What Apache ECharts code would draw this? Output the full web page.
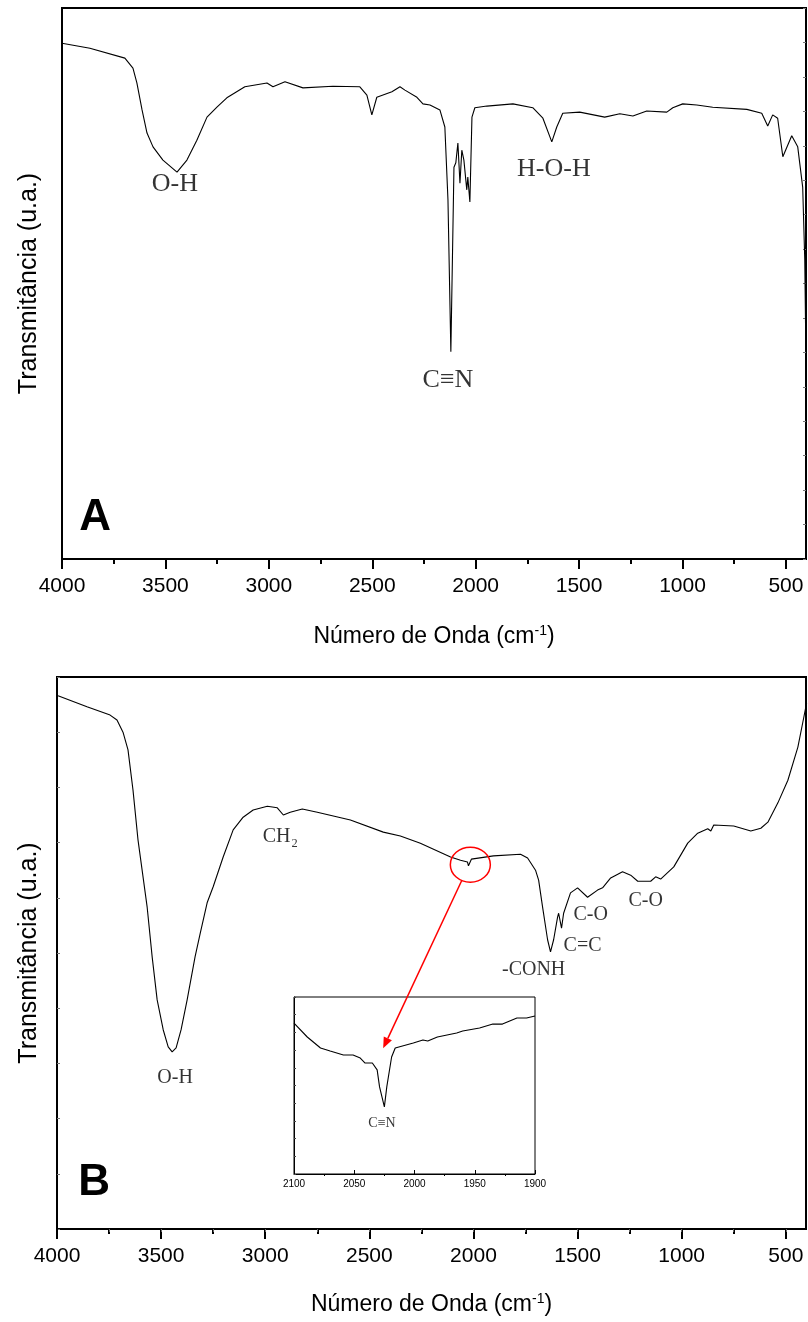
<!DOCTYPE html>
<html>
<head>
<meta charset="utf-8">
<script src="https://cdn.jsdelivr.net/npm/echarts@6/dist/echarts.min.js"></script>
<style>html,body{margin:0;padding:0;background:#fff}#c{width:808px;height:1322px}</style>
</head>
<body>
<div id="c"></div>
<script>
// ---------- DATA ----------
const xTicks = [4000, 3500, 3000, 2500, 2000, 1500, 1000, 500];
const xMinorTicks = [3750, 3250, 2750, 2250, 1750, 1250, 750];
const xTopTicks = [3750, 3500, 3250, 3000, 2750, 2500, 2250, 2000, 1750, 1500, 1250, 1000, 750, 500];
const insetTicks = [2100, 2050, 2000, 1950, 1900];
const insetMinorTicks = [2075, 2025, 1975, 1925];

// Panel A spectrum (wavenumber, transmittance a.u.)
const wavenumberA = [4000,3865,3696,3657,3638,3613,3589,3560,3512,3444,3396,3348,3299,3251,3203,3116,3009,2980,2922,2835,2690,2560,2526,2502,2478,2405,2366,2342,2284,2255,2221,2173,2149,2134,2120,2105,2096,2086,2076,2067,2057,2043,2038,2028,2018,2004,1946,1820,1724,1675,1632,1608,1579,1497,1376,1303,1240,1173,1076,1047,999,931,854,689,617,588,564,540,515,472,443,419,409,404];
const transA = [93.6,92.7,90.9,89.1,86.4,81.5,77.3,74.8,72.4,70.2,72.4,76.0,80.2,82.0,83.7,85.7,86.4,85.7,86.6,85.5,85.8,85.7,84.2,80.6,83.8,84.8,85.7,85.1,83.8,82.6,82.4,81.5,78.4,65.2,37.6,71.1,71.9,75.5,68.2,74.2,72.4,67.0,69.3,64.8,80.2,81.9,82.2,82.6,81.9,80.0,75.7,78.4,80.9,81.1,80.2,80.8,80.4,81.3,81.1,81.9,82.6,82.4,82.0,81.6,80.9,78.6,80.6,80.0,73.0,76.8,74.8,67.5,54.3,38.8];

// Panel B spectrum
const wavenumberB = [3995,3856,3745,3712,3683,3659,3635,3611,3567,3543,3519,3490,3466,3447,3428,3404,3375,3337,3312,3279,3250,3202,3154,3106,3058,2990,2942,2913,2880,2822,2750,2591,2433,2351,2255,2110,2062,2029,2024,2010,1904,1774,1740,1702,1687,1668,1644,1630,1615,1596,1591,1577,1567,1534,1500,1452,1404,1380,1341,1284,1245,1211,1149,1125,1101,1038,971,923,875,860,846,750,668,620,586,538,490,442,413,400];
const transB = [96.6,94.6,93.1,92.2,90.0,86.8,79.5,70.5,58.3,49.3,41.5,36.1,33.0,32.1,32.8,36.1,41.5,49.3,53.6,59.1,62.0,67.4,72.3,74.6,75.9,76.6,76.3,75.0,75.5,76.1,75.5,74.1,71.9,71.2,69.9,67.4,66.8,66.5,65.8,67.0,67.6,67.9,67.2,65.0,63.2,58.3,52.4,50.2,52.4,56.5,57.2,54.5,57.2,60.9,61.8,60.1,61.4,61.8,63.6,64.7,64.1,63.0,63.0,63.8,63.4,65.6,69.9,71.7,72.5,72.1,73.2,73.0,72.1,72.6,73.7,77.2,81.3,87.3,92.8,95.3];

// Inset (zoom 2100-1900)
const wavenumberInset = [2100,2089,2078,2070,2059,2051,2045,2041,2035,2031,2029,2025,2023,2019,2016,2001,1993,1989,1981,1965,1960,1946,1935,1927,1915,1907,1900];
const transInset = [85.3,77.4,71.2,69.5,67.2,67.2,65.5,62.7,62.7,58.8,49.2,37.9,49.2,66.1,71.2,74.0,75.7,75.1,77.4,79.7,80.8,82.5,84.7,84.7,88.1,88.1,89.3];

// Band labels [wavenumber, transmittance, text]
const labelsA = [[3454, 68, 'O-H'], [2134, 32.5, 'C≡N'], [1622, 70.8, 'H-O-H']];
const labelsB = [[2928, 71.0, 'CH{sub|2}'], [3433, 27.4, 'O-H'], [1711, 46.9, '-CONH'], [1437, 56.9, 'C-O'], [1476, 51.4, 'C=C'], [1173, 59.4, 'C-O']];
const labelsInset = [[2027, 28.8, 'C≡N']];
const panelLetters = ['A', 'B'];
const highlightCenter = [2015, 66];   // circled feature in B (data coords)
const arrowTarget = [2026, 71];       // feature in the inset (data coords)

const yTitle = 'Transmitância (u.a.)';
const xTitle = 'Número de Onda (cm{sup|-1})';

// ---------- CHART ----------
const chart = echarts.init(document.getElementById('c'), null, {renderer: 'canvas'});
const SANS = 'Liberation Sans, Arial, sans-serif';
const SERIF = 'Liberation Serif, Times New Roman, serif';
const plain = v => String(v);

function zip(a, b) { return a.map((v, i) => [v, b[i]]); }

function mainX(gridIndex, gap) {
  return {
    type: 'value', gridIndex, inverse: true, min: 403, max: 4000,
    splitLine: {show: false},
    axisLine: {show: true, onZero: false, lineStyle: {color: '#000', width: 2}},
    axisTick: {show: true, inside: false, length: 10, customValues: xTicks, lineStyle: {color: '#000', width: 2}},
    axisLabel: {show: true, customValues: xTicks, formatter: plain, margin: 17, fontSize: 21, color: '#000', fontFamily: SANS},
    name: xTitle, nameLocation: 'middle', nameGap: gap,
    nameTextStyle: {fontSize: 23, color: '#000', fontFamily: SANS,
      rich: {sup: {fontSize: 14, verticalAlign: 'top', padding: [0, 0, 12, 0], fontFamily: SANS, color: '#000'}}}
  };
}
function minorX(gridIndex, values, len, inside, pos, opts) {
  return Object.assign({
    type: 'value', gridIndex, inverse: true, min: 403, max: 4000, position: pos || 'bottom',
    splitLine: {show: false}, axisLine: {show: false},
    axisTick: {show: true, inside: !!inside, length: len, customValues: values, lineStyle: {color: '#000', width: 2}},
    axisLabel: {show: false}
  }, opts || {});
}
function mainY(gridIndex, gap) {
  return {
    type: 'value', gridIndex, min: 0, max: 100,
    splitLine: {show: false},
    axisLine: {show: true, lineStyle: {color: '#000', width: 2}},
    axisTick: {show: false}, axisLabel: {show: false},
    name: yTitle, nameLocation: 'middle', nameGap: gap, nameRotate: 90,
    nameTextStyle: {fontSize: 25, color: '#000', fontFamily: SANS}
  };
}
function tickY(gridIndex, pos, interval) {
  return {
    type: 'value', gridIndex, min: 0, max: 100, position: pos, interval,
    splitLine: {show: false}, axisLine: {show: false}, axisLabel: {show: false},
    axisTick: {show: true, inside: true, length: 3, lineStyle: {color: '#777', width: 1}}
  };
}

function labelSeries(xi, yi, arr, size) {
  return {
    type: 'scatter', xAxisIndex: xi, yAxisIndex: yi, symbolSize: 0, silent: true, z: 5,
    data: arr.map(d => ({value: [d[0], d[1]], label: {formatter: d[2]}})),
    label: {show: true, position: 'inside', color: '#000', fontFamily: SERIF, fontSize: size,
      rich: {sub: {fontSize: size * 0.62, fontFamily: SERIF, color: '#000', padding: [14, 0, 0, 1]}}}
  };
}

const option = {
  animation: false,
  backgroundColor: '#fff',
  grid: [
    {left: 62, top: 8, width: 744, height: 551, show: true, borderColor: '#000', borderWidth: 2, backgroundColor: 'transparent'},
    {left: 57, top: 677, width: 749, height: 552, show: true, borderColor: '#000', borderWidth: 2, backgroundColor: 'transparent'},
    {left: 294, top: 997, width: 241, height: 177, show: true, borderColor: '#000', borderWidth: 1, backgroundColor: '#fff', z: 4}
  ],
  xAxis: [
    mainX(0, 65),
    minorX(0, xMinorTicks, 5, false),
    mainX(1, 63),
    minorX(1, xMinorTicks, 5, false),
    minorX(1, xTopTicks, 3, true, 'top', {axisTick: {show: true, inside: true, length: 3, customValues: xTopTicks, lineStyle: {color: '#666', width: 1}}}),
    {
      type: 'value', gridIndex: 2, inverse: true, min: 1900, max: 2100, z: 5,
      splitLine: {show: false},
      axisLine: {show: true, onZero: false, lineStyle: {color: '#000', width: 1}},
      axisTick: {show: true, inside: true, length: 4, customValues: insetTicks, lineStyle: {color: '#000', width: 1}},
      axisLabel: {show: true, customValues: insetTicks, formatter: plain, margin: 5, fontSize: 10, color: '#000', fontFamily: SANS}
    },
    {
      type: 'value', gridIndex: 2, inverse: true, min: 1900, max: 2100, z: 5,
      splitLine: {show: false}, axisLine: {show: false},
      axisTick: {show: true, inside: true, length: 2, customValues: insetMinorTicks, lineStyle: {color: '#000', width: 1}},
      axisLabel: {show: false}
    }
  ],
  yAxis: [
    mainY(0, 20),
    mainY(1, 15),
    {type: 'value', gridIndex: 2, min: 0, max: 100, z: 5, splitLine: {show: false},
      axisLine: {show: true, lineStyle: {color: '#000', width: 1}},
      axisTick: {show: true, inside: true, length: 2, lineStyle: {color: '#444'}}, splitNumber: 9,
      axisLabel: {show: false}},
    tickY(0, 'right', 6.25),
    tickY(1, 'left', 10)
  ],
  series: [
    {type: 'line', xAxisIndex: 0, yAxisIndex: 0, data: zip(wavenumberA, transA), showSymbol: false, symbol: 'none',
      lineStyle: {color: '#000', width: 1.1}, clip: true},
    {type: 'line', xAxisIndex: 2, yAxisIndex: 1, data: zip(wavenumberB, transB), showSymbol: false, symbol: 'none',
      lineStyle: {color: '#000', width: 1.1}, clip: true},
    {type: 'line', xAxisIndex: 5, yAxisIndex: 2, data: zip(wavenumberInset, transInset), showSymbol: false, symbol: 'none',
      lineStyle: {color: '#000', width: 1.1}, clip: true, z: 6},
    labelSeries(0, 0, labelsA, 26),
    labelSeries(2, 1, labelsB, 20),
    labelSeries(5, 2, labelsInset, 14)
  ]
};
chart.setOption(option);

// Panel letters, circle and arrow positioned from the axes
const pA = chart.convertToPixel({xAxisIndex: 0, yAxisIndex: 0}, [3840, 7.4]);
const pB = chart.convertToPixel({xAxisIndex: 2, yAxisIndex: 1}, [3822, 8.3]);
const c = chart.convertToPixel({xAxisIndex: 2, yAxisIndex: 1}, highlightCenter);
const t = chart.convertToPixel({xAxisIndex: 5, yAxisIndex: 2}, arrowTarget);
const rx = 20, ry = 17.5;
const ang = Math.atan2(t[1] - c[1], t[0] - c[0]);
const s = [c[0] + rx * Math.cos(ang), c[1] + ry * Math.sin(ang)];
const hl = 11, hw = 4.5;
const dir = Math.atan2(t[1] - s[1], t[0] - s[0]);
const ux = Math.cos(dir), uy = Math.sin(dir);
const base = [t[0] - ux * hl, t[1] - uy * hl];
chart.setOption({
  graphic: [
    {type: 'text', x: pA[0], y: pA[1], style: {text: panelLetters[0], font: 'bold 44px ' + SANS, fill: '#000', align: 'center', verticalAlign: 'middle'}, z: 10},
    {type: 'text', x: pB[0], y: pB[1], style: {text: panelLetters[1], font: 'bold 44px ' + SANS, fill: '#000', align: 'center', verticalAlign: 'middle'}, z: 10},
    {type: 'ellipse', shape: {cx: c[0], cy: c[1], rx: rx, ry: ry}, style: {fill: 'none', stroke: '#f00', lineWidth: 1.5}, z: 10},
    {type: 'line', shape: {x1: s[0], y1: s[1], x2: base[0], y2: base[1]}, style: {stroke: '#f00', lineWidth: 1.5}, z: 10},
    {type: 'polygon', shape: {points: [[t[0], t[1]], [base[0] - uy * hw, base[1] + ux * hw], [base[0] + uy * hw, base[1] - ux * hw]]}, style: {fill: '#f00'}, z: 10}
  ]
});
</script>
</body>
</html>
